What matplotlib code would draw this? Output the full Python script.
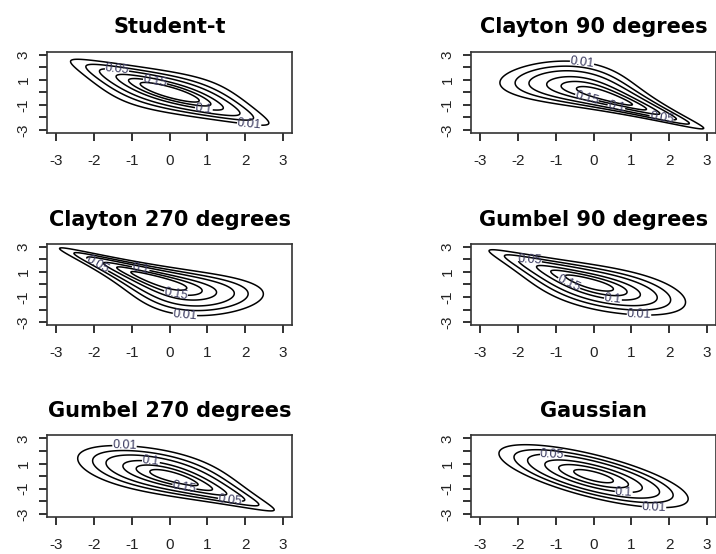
import math
import numpy as np
import matplotlib.pyplot as plt

plt.rcParams['font.family'] = ['Liberation Sans', 'DejaVu Sans']

# panels (row by row)
titles = ["Student-t", "Clayton 90 degrees", "Clayton 270 degrees",
          "Gumbel 90 degrees", "Gumbel 270 degrees", "Gaussian"]
families = ["t", "clayton", "clayton", "gumbel", "gumbel", "gauss"]
rotations = [0, 90, 270, 90, 270, 0]
par1 = [-0.75, -2.0, -2.0, -2.0, -2.0, -0.72]
par2 = [4.0, 0.0, 0.0, 0.0, 0.0, 0.0]

levels = [0.01, 0.025, 0.05, 0.1, 0.15, 0.2]
xticks = [-3, -2, -1, 0, 1, 2, 3]
yticks = [-3, -2, -1, 0, 1, 2, 3]
ylabels = ["-3", "", "-1", "", "1", "", "3"]

# where the contour labels sit (level, x, y)
label_spots = [
    [(0.05, -1.4, 1.6), (0.15, -0.4, 0.7), (0.1, 0.9, -1.4), (0.01, 2.1, -2.6)],
    [(0.01, -0.3, 2.5), (0.15, -0.2, -0.7), (0.1, 0.6, -1.2), (0.05, 1.8, -2.0)],
    [(0.05, -1.9, 1.6), (0.1, -0.8, 0.8), (0.15, 0.2, -0.2), (0.01, 0.4, -2.5)],
    [(0.05, -1.7, 1.6), (0.15, -0.6, 0.4), (0.1, 0.5, -1.5), (0.01, 1.2, -2.6)],
    [(0.01, -1.2, 2.1), (0.1, -0.5, 1.1), (0.15, 0.4, -0.7), (0.05, 1.6, -1.8)],
    [(0.05, -1.1, 1.4), (0.1, 0.8, -1.2), (0.01, 1.6, -2.5)],
]

Phi = np.vectorize(lambda z: 0.5 * (1 + math.erf(z / math.sqrt(2))))


def phi(z):
    return np.exp(-z ** 2 / 2) / math.sqrt(2 * math.pi)


def t_pdf(t, nu):
    k = math.gamma((nu + 1) / 2) / (math.sqrt(nu * math.pi) * math.gamma(nu / 2))
    return k * (1 + t ** 2 / nu) ** (-(nu + 1) / 2)


def t_quantile(u, nu):
    tt = np.linspace(-60, 60, 200001)
    cdf = np.cumsum(t_pdf(tt, nu)) * (tt[1] - tt[0])
    cdf = cdf / cdf[-1]
    return np.interp(u, cdf, tt)


def cop_density(fam, u, v, p, p2):
    if fam == "clayton":
        th = abs(p)
        return (1 + th) * (u * v) ** (-1 - th) * (u ** -th + v ** -th - 1) ** (-2 - 1 / th)
    if fam == "gumbel":
        th = abs(p)
        a, b = -np.log(u), -np.log(v)
        s = a ** th + b ** th
        A = s ** (1 / th)
        return np.exp(-A) / (u * v) * (a * b) ** (th - 1) * s ** (-2 + 1 / th) * (A + th - 1)
    if fam == "t":
        a, b = t_quantile(u, p2), t_quantile(v, p2)
        q = (a ** 2 - 2 * p * a * b + b ** 2) / (p2 * (1 - p ** 2))
        f2 = (1 + q) ** (-(p2 + 2) / 2) / (2 * math.pi * math.sqrt(1 - p ** 2))
        return f2 / (t_pdf(a, p2) * t_pdf(b, p2))
    return None


g = np.linspace(-3, 3, 201)
X, Y = np.meshgrid(g, g)
U, V = Phi(X), Phi(Y)

fig = plt.figure(figsize=(7.16, 5.54), dpi=100)
lefts = [0.066, 0.658]
bottoms = [0.760, 0.413, 0.067]

for i in range(6):
    ax = fig.add_axes([lefts[i % 2], bottoms[i // 2], 0.342, 0.147])
    fam, rot = families[i], rotations[i]
    if fam == "gauss":
        r = par1[i]
        Z = np.exp(-(X ** 2 - 2 * r * X * Y + Y ** 2) / (2 * (1 - r ** 2))) / (2 * math.pi * math.sqrt(1 - r ** 2))
    else:
        uu, vv = U, V
        if rot == 90:
            uu = 1 - U
        elif rot == 270:
            vv = 1 - V
        Z = cop_density(fam, uu, vv, par1[i], par2[i]) * phi(X) * phi(Y)

    spots = {lev: (lx, ly) for lev, lx, ly in label_spots[i]}
    for lev in levels:
        cs = ax.contour(X, Y, Z, levels=[lev], colors='black', linewidths=1.1)
        if lev in spots:
            ax.clabel(cs, manual=[spots[lev]], fontsize=9, colors='#3a3a60',
                      inline=True, inline_spacing=1)

    ax.set_xlim(-3.24, 3.24)
    ax.set_ylim(-3.24, 3.24)
    ax.set_xticks(xticks)
    ax.set_xticklabels([str(t) for t in xticks])
    ax.set_yticks(yticks)
    ax.set_yticklabels(ylabels, rotation=90, va='center')
    ax.tick_params(axis='both', length=6, width=1.3, labelsize=11, colors='#222222')
    ax.tick_params(axis='x', pad=9)
    ax.tick_params(axis='y', pad=6)
    for s in ax.spines.values():
        s.set_linewidth(1.2)
        s.set_color('#333333')
    ax.set_title(titles[i], fontsize=15, fontweight='bold', pad=13, family='DejaVu Sans')

plt.savefig('out.png', dpi=100)
